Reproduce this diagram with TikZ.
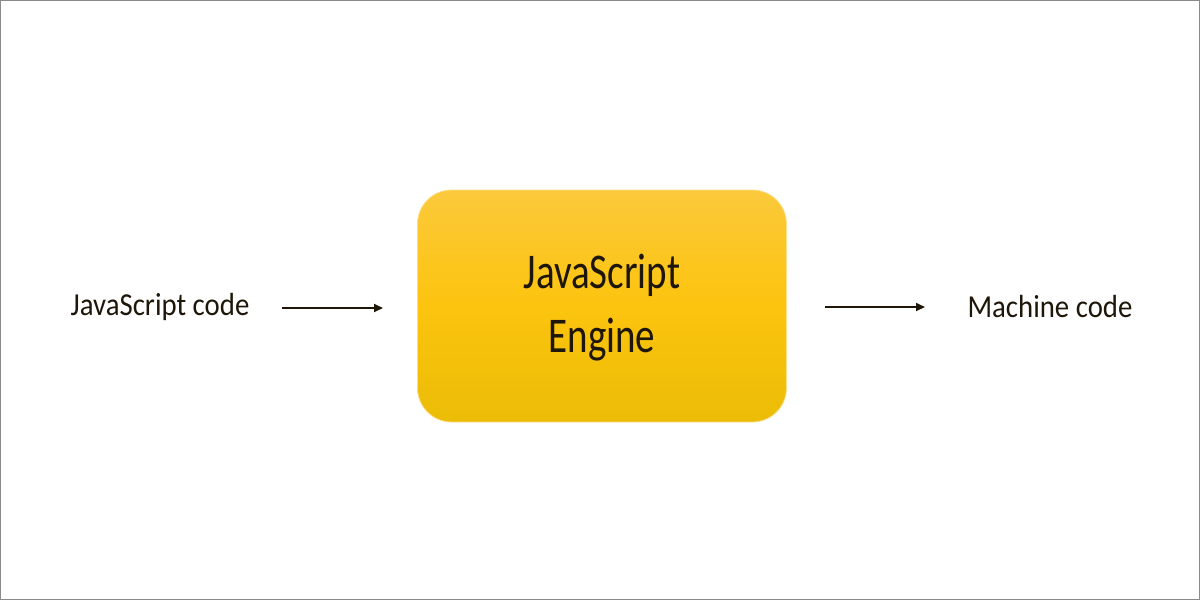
\documentclass[tikz,border=0pt]{standalone}
\usepackage{fontspec}
\setmainfont{Carlito}
\newfontfamily\lblfont[FakeStretch=0.9]{Carlito}
\newfontfamily\engfont[FakeStretch=0.78]{Carlito}
\usetikzlibrary{arrows.meta}
\definecolor{txt}{HTML}{1E1608}
\definecolor{ytop}{HTML}{FBC93C}
\definecolor{ymid}{HTML}{FCC40E}
\definecolor{ybot}{HTML}{EBBC06}
\definecolor{frame}{HTML}{8A8A8A}
\tikzset{
  lbl/.style={text=txt, font=\lblfont\fontsize{32}{36}\selectfont, inner sep=0pt},
  enginebox/.style={rounded corners=34pt, draw=ytop!60!white, line width=0.8pt,
     top color=ytop, bottom color=ybot, middle color=ymid, minimum width=369pt,
     minimum height=232pt, inner sep=0pt},
  conn/.style={-{Triangle[length=9pt,width=8pt]}, line width=2pt, draw=txt}
}
\begin{document}
\begin{tikzpicture}[x=1pt,y=-1pt]
\useasboundingbox (0,0) rectangle (1200,600);
\draw[frame, line width=1.2pt] (0.6,0.6) rectangle (1199.4,599.4);
\node[enginebox] (eng) at (602,306) {};
\node[text=txt, font=\engfont\fontsize{50}{64}\selectfont, align=center, inner sep=0pt] (engtxt) at (602,308) {JavaScript\\Engine};
\node[lbl] (js) at (160,307) {JavaScript code};
\node[lbl] (mc) at (1050,307) {Machine code};
\coordinate (a1) at (282,308);
\coordinate (a2) at (383,308);
\coordinate (b1) at (825,307);
\coordinate (b2) at (925,307);
\draw[conn] (a1) -- (a2);
\draw[conn] (b1) -- (b2);
\end{tikzpicture}
\end{document}
